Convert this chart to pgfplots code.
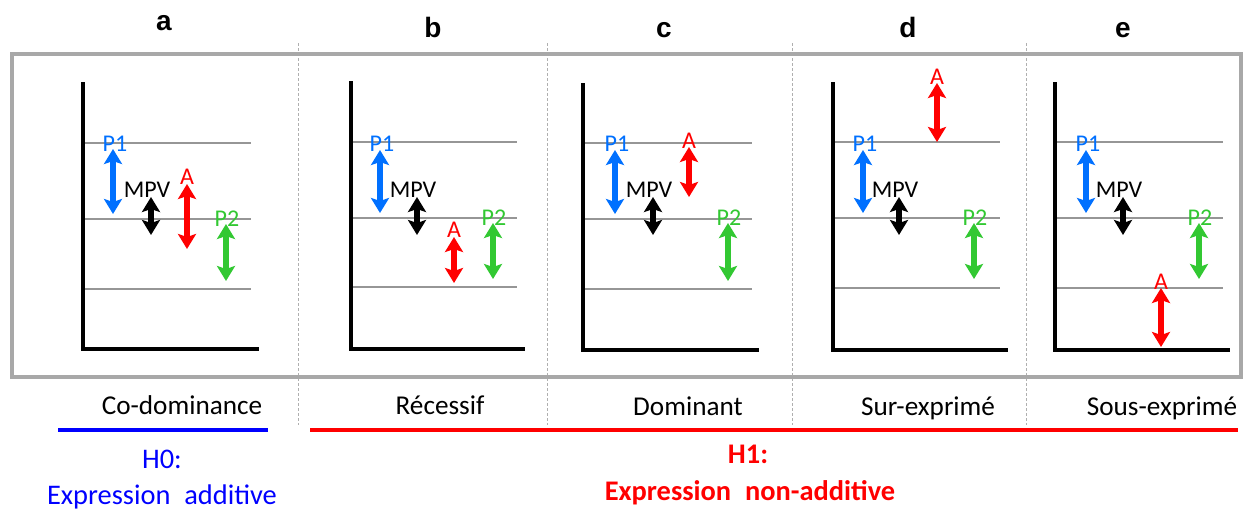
\documentclass[border=0pt]{standalone}
\usepackage{pgfplots}
\pgfplotsset{compat=1.18}
\usepackage{fontspec}
\setmainfont{Carlito}
\newfontfamily\arialb{Liberation Sans}[BoldFont={Liberation Sans Bold}]
\usetikzlibrary{arrows.meta}

\definecolor{cP1}{RGB}{0,112,255}
\definecolor{cA}{RGB}{255,0,0}
\definecolor{cP2}{RGB}{50,200,50}
\definecolor{boxgray}{RGB}{168,168,168}
\definecolor{lvlgray}{RGB}{150,150,150}
\definecolor{sepgray}{RGB}{175,175,175}

\tikzset{
  dbl/.style={mark=none, line width=2.8pt,
    >={Stealth[length=7.5pt,width=9pt,inset=1.5pt]}, <->},
  lvl/.style={mark=none, lvlgray, line width=0.9pt},
  ax/.style={mark=none, black, line width=2pt, line join=miter, line cap=rect},
  sep/.style={mark=none, sepgray, line width=0.5pt, dash pattern=on 1.5pt off 1pt},
  lab/.style={anchor=base, font=\fontsize{12}{13}\selectfont, inner sep=0pt},
  txt/.style={anchor=base, font=\fontsize{13.6}{15}\selectfont, inner sep=0pt},
  hyp/.style={anchor=base, font=\fontsize{14.2}{15}\selectfont, inner sep=0pt},
  let/.style={anchor=base, font=\arialb\bfseries\fontsize{14}{15}\selectfont, inner sep=0pt},
}

\begin{document}
\begin{tikzpicture}
\begin{axis}[
    width=624pt, height=255pt, scale only axis,
    xmin=0, xmax=1248, ymin=0, ymax=510, y dir=reverse,
    hide axis, clip=false]

% separators and frame
\addplot[sep] coordinates {(298,43) (298,425)};
\addplot[sep] coordinates {(547,43) (547,425)};
\addplot[sep] coordinates {(792,43) (792,425)};
\addplot[sep] coordinates {(1026,43) (1026,425)};
\addplot[mark=none, boxgray, line width=1.6pt, line join=miter]
  coordinates {(12,54) (1241,54) (1241,377) (12,377)} -- cycle;

% panel a
\addplot[lvl] coordinates {(83,143) (251,143)};
\addplot[lvl] coordinates {(83,219) (251,219)};
\addplot[lvl] coordinates {(83,289) (251,289)};
\addplot[ax] coordinates {(83,84) (83,349) (257,349)};
\addplot[dbl, cP1] coordinates {(113,149) (113,214)};
\addplot[dbl, black] coordinates {(151,197) (151,235)};
\addplot[dbl, cA] coordinates {(187,184) (187,249)};
\addplot[dbl, cP2] coordinates {(226,224) (226,281)};
\node[lab, cP1] at (axis cs:115,151) {P1};
\node[lab] at (axis cs:147,197) {MPV};
\node[lab, cA] at (axis cs:187,184) {A};
\node[lab, cP2] at (axis cs:227,226) {P2};

% panel b
\addplot[lvl] coordinates {(351,142) (517,142)};
\addplot[lvl] coordinates {(351,218) (517,218)};
\addplot[lvl] coordinates {(351,287) (517,287)};
\addplot[ax] coordinates {(351,83) (351,349) (523,349)};
\addplot[dbl, cP1] coordinates {(380,150) (380,213)};
\addplot[dbl, black] coordinates {(417,197) (417,235)};
\addplot[dbl, cA] coordinates {(454,237) (454,283)};
\addplot[dbl, cP2] coordinates {(493,223) (493,279)};
\node[lab, cP1] at (axis cs:382,151) {P1};
\node[lab] at (axis cs:413,197) {MPV};
\node[lab, cA] at (axis cs:454,237) {A};
\node[lab, cP2] at (axis cs:494,225) {P2};

% panel c
\addplot[lvl] coordinates {(583,143) (752,143)};
\addplot[lvl] coordinates {(583,219) (752,219)};
\addplot[lvl] coordinates {(583,289) (752,289)};
\addplot[ax] coordinates {(583,85) (583,350) (757,350)};
\addplot[dbl, cP1] coordinates {(615,150) (615,214)};
\addplot[dbl, black] coordinates {(653,197) (653,235)};
\addplot[dbl, cA] coordinates {(689,147) (689,197)};
\addplot[dbl, cP2] coordinates {(728,223) (728,281)};
\node[lab, cP1] at (axis cs:617,151) {P1};
\node[lab] at (axis cs:649,197) {MPV};
\node[lab, cA] at (axis cs:689,148) {A};
\node[lab, cP2] at (axis cs:729,225) {P2};

% panel d
\addplot[lvl] coordinates {(833,142) (1000,142)};
\addplot[lvl] coordinates {(833,218) (1000,218)};
\addplot[lvl] coordinates {(833,288) (1000,288)};
\addplot[ax] coordinates {(833,84) (833,350) (1006,350)};
\addplot[dbl, cP1] coordinates {(863,150) (863,213)};
\addplot[dbl, black] coordinates {(899,197) (899,235)};
\addplot[dbl, cA] coordinates {(937,83) (937,142)};
\addplot[dbl, cP2] coordinates {(974,223) (974,279)};
\node[lab, cP1] at (axis cs:865,151) {P1};
\node[lab] at (axis cs:895,197) {MPV};
\node[lab, cA] at (axis cs:937,84) {A};
\node[lab, cP2] at (axis cs:975,225) {P2};

% panel e
\addplot[lvl] coordinates {(1055,142) (1223,142)};
\addplot[lvl] coordinates {(1055,218) (1223,218)};
\addplot[lvl] coordinates {(1055,288) (1223,288)};
\addplot[ax] coordinates {(1055,84) (1055,350) (1228,350)};
\addplot[dbl, cP1] coordinates {(1086,150) (1086,213)};
\addplot[dbl, black] coordinates {(1123,197) (1123,235)};
\addplot[dbl, cA] coordinates {(1161,288) (1161,347)};
\addplot[dbl, cP2] coordinates {(1199,223) (1199,279)};
\node[lab, cP1] at (axis cs:1088,151) {P1};
\node[lab] at (axis cs:1119,197) {MPV};
\node[lab, cA] at (axis cs:1161,289) {A};
\node[lab, cP2] at (axis cs:1200,225) {P2};

% hypothesis bars
\addplot[mark=none, blue, line width=2pt] coordinates {(58,430) (268,430)};
\addplot[mark=none, red, line width=2pt] coordinates {(310,430) (1238,430)};

% texts
\node[let] at (axis cs:164,30) {a};
\node[let] at (axis cs:433,37) {b};
\node[let] at (axis cs:664,37) {c};
\node[let] at (axis cs:908,37) {d};
\node[let] at (axis cs:1123,37) {e};

\node[txt] at (axis cs:182,414) {Co-dominance};
\node[txt] at (axis cs:440,414) {Récessif};
\node[txt] at (axis cs:688,415) {Dominant};
\node[txt] at (axis cs:928,415) {Sur-exprimé};
\node[txt] at (axis cs:1162,415) {Sous-exprimé};

\node[hyp, blue] at (axis cs:162,468) {H0:};
\node[hyp, blue] at (axis cs:162,504) {Expression\hspace{7pt}additive};
\node[hyp, red, font=\bfseries\fontsize{14.2}{15}\selectfont] at (axis cs:748,463) {H1:};
\node[hyp, red, font=\bfseries\fontsize{14.2}{15}\selectfont] at (axis cs:750,500) {Expression\hspace{7pt}non-additive};
\end{axis}
\pgfresetboundingbox
\path (current axis.south west) rectangle (current axis.north east);
\end{tikzpicture}
\end{document}
